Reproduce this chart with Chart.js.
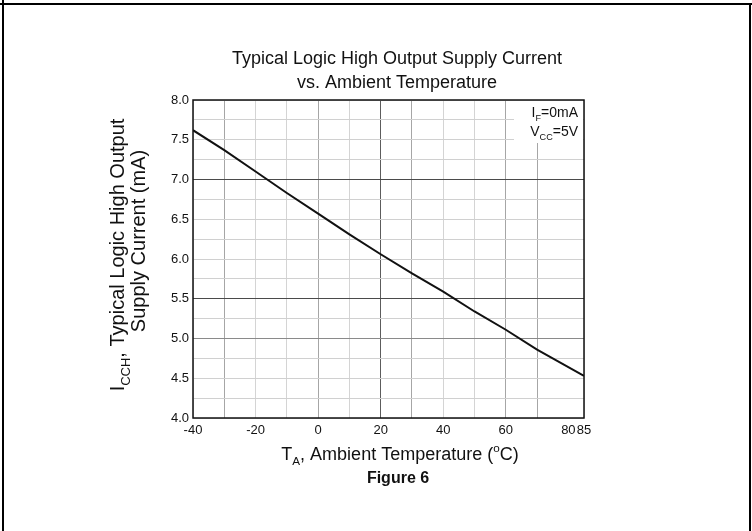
<!DOCTYPE html>
<html>
<head>
<meta charset="utf-8">
<title>Typical Logic High Output Supply Current vs. Ambient Temperature</title>
<script src="https://cdn.jsdelivr.net/npm/chart.js@4.4.0/dist/chart.umd.min.js"></script>
<style>
  html, body { margin: 0; padding: 0; background: #fff; }
  #wrap { position: relative; width: 752px; height: 531px; overflow: hidden; }
  #chart { position: absolute; left: 0; top: 0; }
  .rule { position: absolute; background: #000; }
</style>
</head>
<body>
<div id="wrap">
  <canvas id="chart" width="752" height="531"></canvas>
  <div class="rule" style="left:0;top:3px;width:752px;height:2px"></div>
  <div class="rule" style="left:2px;top:0;width:2px;height:531px"></div>
  <div class="rule" style="left:749px;top:3px;width:2px;height:528px"></div>
</div>
<script>
'use strict';

// data
const temps = [-40, -30, -20, -10, 0, 10, 20, 30, 40, 50, 60, 70, 85];
const current = [7.62, 7.37, 7.10, 6.83, 6.57, 6.31, 6.06, 5.82, 5.59, 5.34, 5.11, 4.86, 4.53];

const xTicks = [-40, -30, -20, -10, 0, 10, 20, 30, 40, 50, 60, 70, 80, 85];
const xLabels = [-40, -20, 0, 20, 40, 60, 80, 85];
const yLabels = [4.0, 4.5, 5.0, 5.5, 6.0, 6.5, 7.0, 7.5, 8.0];

const titleLines = ['Typical Logic High Output Supply Current', 'vs. Ambient Temperature'];
const xTitle = [['T'], ['A', 'sub'], [', Ambient Temperature ('], ['o', 'sup'], ['C)']];
const yTitle1 = [['I'], ['CCH', 'sub'], [', Typical Logic High Output']];
const yTitle2 = [['Supply Current (mA)']];
const noteLines = [
  [['I'], ['F', 'sub'], ['=0mA']],
  [['V'], ['CC', 'sub'], ['=5V']]
];
const figureLabel = 'Figure 6';

const FONT = '"Liberation Sans", Arial, Helvetica, sans-serif';

function xGridColor(ctx) {
  const v = ctx.tick ? ctx.tick.value : null;
  if (v === 20) return '#5c5c5c';
  if (v === 80) return 'rgba(0,0,0,0)';
  if ([-30, 0, 30, 60, 70].includes(v)) return '#a6a6a6';
  return '#d4d4d4';
}

function yGridColor(ctx) {
  const v = ctx.tick ? ctx.tick.value : null;
  if (v === 7 || v === 5.5) return '#4a4a4a';
  if (v === 5) return '#8a8a8a';
  return '#d0d0d0';
}

function richWidth(ctx, parts, size, weight) {
  let w = 0;
  for (const p of parts) {
    const s = p[1] ? size * 0.65 : size;
    ctx.font = weight + ' ' + s + 'px ' + FONT;
    w += ctx.measureText(p[0]).width;
  }
  return w;
}

function drawRich(ctx, parts, x, y, size, align, weight) {
  weight = weight || 'normal';
  const w = richWidth(ctx, parts, size, weight);
  let cx = x;
  if (align === 'center') cx = x - w / 2;
  if (align === 'right') cx = x - w;
  ctx.textAlign = 'left';
  ctx.textBaseline = 'alphabetic';
  for (const p of parts) {
    let s = size;
    let dy = 0;
    if (p[1] === 'sub') { s = size * 0.65; dy = size * 0.3; }
    if (p[1] === 'sup') { s = size * 0.65; dy = -size * 0.45; }
    ctx.font = weight + ' ' + s + 'px ' + FONT;
    ctx.fillText(p[0], cx, y + dy);
    cx += ctx.measureText(p[0]).width;
  }
}

const decorations = {
  id: 'decorations',
  beforeDatasetsDraw(chart) {
    // white patch behind the conditions note
    const ctx = chart.ctx;
    const a = chart.chartArea;
    ctx.save();
    ctx.fillStyle = '#fff';
    ctx.fillRect(a.right - 70, a.top + 1, 69, 42);
    ctx.restore();
  },
  afterDraw(chart) {
    const ctx = chart.ctx;
    const a = chart.chartArea;
    ctx.save();
    ctx.fillStyle = '#111';

    // plot frame
    ctx.strokeStyle = '#111';
    ctx.lineWidth = 1.5;
    ctx.strokeRect(a.left, a.top, a.right - a.left, a.bottom - a.top);

    // title
    drawRich(ctx, [[titleLines[0]]], 397, 64, 18, 'center');
    drawRich(ctx, [[titleLines[1]]], 397, 88, 18, 'center');

    // conditions
    drawRich(ctx, noteLines[0], a.right - 6, 117, 14, 'right');
    drawRich(ctx, noteLines[1], a.right - 6, 136, 14, 'right');

    // x axis title and figure number
    drawRich(ctx, xTitle, 400, 460, 18, 'center');
    drawRich(ctx, [[figureLabel]], 398, 483, 16, 'center', 'bold');

    // y axis title, two rotated lines
    ctx.save();
    ctx.translate(124, 255);
    ctx.rotate(-Math.PI / 2);
    drawRich(ctx, yTitle1, 0, 0, 20, 'center');
    ctx.restore();
    ctx.save();
    ctx.translate(145, 241);
    ctx.rotate(-Math.PI / 2);
    drawRich(ctx, yTitle2, 0, 0, 20, 'center');
    ctx.restore();

    ctx.restore();
  }
};

const points = temps.map((t, i) => ({ x: t, y: current[i] }));

new Chart(document.getElementById('chart'), {
  type: 'line',
  data: {
    datasets: [{
      label: 'ICCH',
      data: points,
      borderColor: '#111',
      borderWidth: 2,
      pointRadius: 0,
      tension: 0,
      fill: false
    }]
  },
  options: {
    responsive: false,
    animation: false,
    devicePixelRatio: 1,
    layout: { padding: { left: 0, top: 100, right: 168, bottom: 0 } },
    plugins: {
      legend: { display: false },
      title: { display: false },
      tooltip: { enabled: false }
    },
    scales: {
      x: {
        type: 'linear',
        min: -40,
        max: 85,
        afterFit(scale) { scale.height = 113; },
        afterBuildTicks(scale) { scale.ticks = xTicks.map(v => ({ value: v })); },
        grid: { color: xGridColor, lineWidth: 1, drawTicks: false },
        border: { display: false },
        ticks: {
          autoSkip: false,
          maxRotation: 0,
          padding: 5,
          color: '#111',
          font: { family: FONT, size: 13 },
          callback: v => xLabels.includes(v) ? String(v) : ''
        }
      },
      y: {
        min: 4,
        max: 8,
        afterFit(scale) { scale.width = 193; },
        grid: { color: yGridColor, lineWidth: 1, drawTicks: false },
        border: { display: false },
        ticks: {
          stepSize: 0.25,
          autoSkip: false,
          padding: 4,
          color: '#111',
          font: { family: FONT, size: 13 },
          callback: v => yLabels.includes(v) ? v.toFixed(1) : ''
        }
      }
    }
  },
  plugins: [decorations]
});
</script>
</body>
</html>
